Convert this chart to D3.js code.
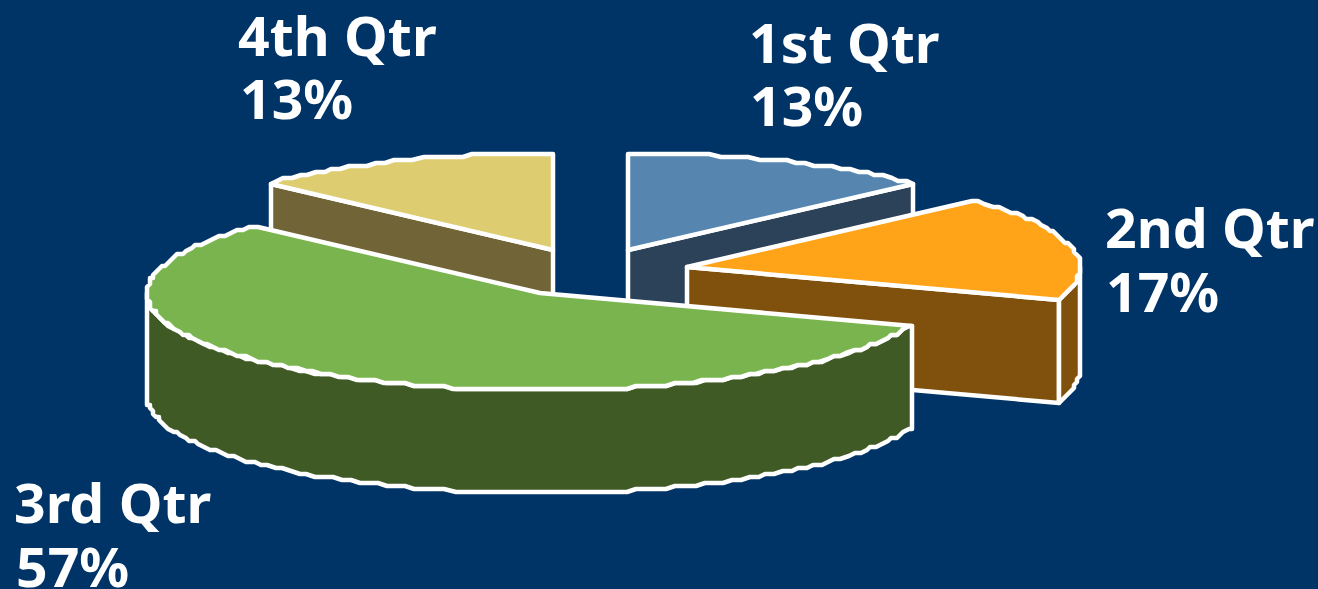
<!DOCTYPE html>
<html><head><meta charset="utf-8">
<script src="https://cdn.jsdelivr.net/npm/d3@7"></script>
<style>html,body{margin:0;padding:0;background:#003366;overflow:hidden}svg{display:block}text{font-family:"Noto Sans",sans-serif;font-weight:700;fill:#fff;font-size:53.5px}</style>
</head><body><svg id="c" width="1318" height="589"></svg>
<script>
const categories = ["1st Qtr","2nd Qtr","3rd Qtr","4th Qtr"];
const values = [12.9,17.4,56.9,12.8];
const topColors = ["#5686B0","#FFA319","#7AB44E","#DDCD70"];
const sideColors = ["#2C4259","#80510D","#3F5A25","#716437"];
const apexX = [628,687,540,553];
const apexY = [250,267,293,250];
const labelX = [[749,750],[1105,1106],[14,16],[238,240]];
const labelY = [[63,126],[248,312],[523,587],[56,119]];
const drawOrder = [0,3,1,2];

const W=1318,H=589,rx=393,ry=97,depth=103,grid=3,stretch=1.035;
const svg=d3.select("#c");
svg.append("rect").attr("width",W).attr("height",H).attr("fill","#003366");
const arcs=d3.pie().sort(null).value(d=>d)(values);
const px=d3.scaleLinear().domain([-1,1]).range([-rx,rx]);
const py=d3.scaleLinear().domain([-1,1]).range([ry,-ry]);
const snap=v=>Math.round(v/grid)*grid;
const pt=(i,a,dz=0)=>[apexX[i]+snap(px(Math.sin(a))),apexY[i]+snap(py(Math.cos(a)))+dz];
const rim=(i,a0,a1,dz=0)=>{const n=Math.max(2,Math.ceil((a1-a0)/(Math.PI/120)));
  return d3.range(n+1).map(k=>pt(i,a0+(a1-a0)*k/n,dz));};
const line=d3.line();
const poly=(pts,fill)=>svg.append("path").attr("d",line(pts)+"Z").attr("fill",fill)
  .attr("stroke","#fff").attr("stroke-width",4.5).attr("stroke-linejoin","round");
const q1=Math.PI/2,q3=3*Math.PI/2;
drawOrder.forEach(i=>{
  const s=arcs[i].startAngle,e=arcs[i].endAngle,A=[apexX[i],apexY[i]],A2=[A[0],A[1]+depth];
  if(e<=q1||(s<q1&&e<Math.PI)){const P=pt(i,e);poly([A,P,[P[0],P[1]+depth],A2],sideColors[i]);}
  if(s>=Math.PI&&s<2*Math.PI&&e-s<Math.PI){const P=pt(i,s);poly([A,P,[P[0],P[1]+depth],A2],sideColors[i]);}
  const a0=Math.max(s,q1),a1=Math.min(e,q3);
  if(a1>a0){const t=rim(i,a0,a1),b=rim(i,a0,a1,depth).reverse();poly(t.concat(b),sideColors[i]);}
  poly([A].concat(rim(i,s,e)),topColors[i]);
});
const fmt=d3.format(".0f");
categories.forEach((c,i)=>{
  svg.append("text").attr("transform",`translate(${labelX[i][0]},${labelY[i][0]}) scale(${stretch},1)`).text(c);
  svg.append("text").attr("transform",`translate(${labelX[i][1]},${labelY[i][1]}) scale(${stretch},1)`).text(fmt(values[i])+"%");
});
</script></body></html>
